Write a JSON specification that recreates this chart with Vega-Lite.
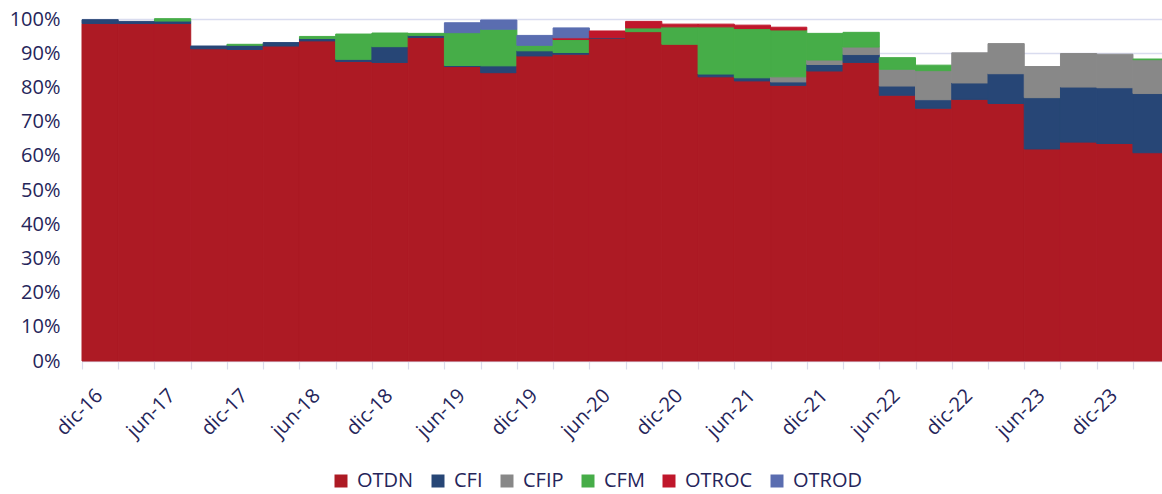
{
  "$schema": "https://vega.github.io/schema/vega-lite/v6.json",
  "width": 1080,
  "height": 342,
  "autosize": {"type": "none"},
  "padding": {"left": 82, "top": 19, "right": 0, "bottom": 133},
  "background": "white",
  "config": {"view": {"stroke": null}},
  "data": {"values": [
    {"q":"dic-16","s":"OTDN","v":98.7},{"q":"dic-16","s":"CFI","v":1.1},
    {"q":"mar-17","s":"OTDN","v":98.7},{"q":"mar-17","s":"CFI","v":0.6},
    {"q":"jun-17","s":"OTDN","v":98.7},{"q":"jun-17","s":"CFI","v":0.7},{"q":"jun-17","s":"CFM","v":0.7},
    {"q":"sep-17","s":"OTDN","v":91.3},{"q":"sep-17","s":"CFI","v":0.8},
    {"q":"dic-17","s":"OTDN","v":91.1},{"q":"dic-17","s":"CFI","v":1.2},{"q":"dic-17","s":"CFM","v":0.3},
    {"q":"mar-18","s":"OTDN","v":92.1},{"q":"mar-18","s":"CFI","v":1.0},
    {"q":"jun-18","s":"OTDN","v":93.6},{"q":"jun-18","s":"CFI","v":0.7},{"q":"jun-18","s":"CFM","v":0.6},
    {"q":"sep-18","s":"OTDN","v":87.6},{"q":"sep-18","s":"CFI","v":0.6},{"q":"sep-18","s":"CFM","v":7.4},
    {"q":"dic-18","s":"OTDN","v":87.3},{"q":"dic-18","s":"CFI","v":4.6},{"q":"dic-18","s":"CFM","v":4.0},
    {"q":"mar-19","s":"OTDN","v":94.6},{"q":"mar-19","s":"CFI","v":0.6},{"q":"mar-19","s":"CFM","v":0.6},
    {"q":"jun-19","s":"OTDN","v":86.1},{"q":"jun-19","s":"CFI","v":0.3},{"q":"jun-19","s":"CFM","v":9.6},{"q":"jun-19","s":"OTROD","v":2.9},
    {"q":"sep-19","s":"OTDN","v":84.3},{"q":"sep-19","s":"CFI","v":2.0},{"q":"sep-19","s":"CFM","v":10.7},{"q":"sep-19","s":"OTROD","v":2.7},
    {"q":"dic-19","s":"OTDN","v":89.2},{"q":"dic-19","s":"CFI","v":1.5},{"q":"dic-19","s":"CFM","v":1.6},{"q":"dic-19","s":"OTROD","v":2.9},
    {"q":"mar-20","s":"OTDN","v":89.7},{"q":"mar-20","s":"CFI","v":0.5},{"q":"mar-20","s":"CFM","v":3.8},{"q":"mar-20","s":"OTROC","v":0.5},{"q":"mar-20","s":"OTROD","v":2.9},
    {"q":"jun-20","s":"OTDN","v":94.3},{"q":"jun-20","s":"CFI","v":0.2},{"q":"jun-20","s":"OTROC","v":2.0},
    {"q":"sep-20","s":"OTDN","v":96.3},{"q":"sep-20","s":"CFM","v":1.1},{"q":"sep-20","s":"OTROC","v":1.9},
    {"q":"dic-20","s":"OTDN","v":92.6},{"q":"dic-20","s":"CFM","v":5.1},{"q":"dic-20","s":"OTROC","v":0.8},
    {"q":"mar-21","s":"OTDN","v":83.1},{"q":"mar-21","s":"CFI","v":0.8},{"q":"mar-21","s":"CFM","v":13.8},{"q":"mar-21","s":"OTROC","v":0.8},
    {"q":"jun-21","s":"OTDN","v":81.9},{"q":"jun-21","s":"CFI","v":0.9},{"q":"jun-21","s":"CFM","v":14.4},{"q":"jun-21","s":"OTROC","v":1.0},
    {"q":"sep-21","s":"OTDN","v":80.6},{"q":"sep-21","s":"CFI","v":1.0},{"q":"sep-21","s":"CFIP","v":1.5},{"q":"sep-21","s":"CFM","v":13.7},{"q":"sep-21","s":"OTROC","v":0.8},
    {"q":"dic-21","s":"OTDN","v":84.8},{"q":"dic-21","s":"CFI","v":1.9},{"q":"dic-21","s":"CFIP","v":1.3},{"q":"dic-21","s":"CFM","v":7.8},
    {"q":"mar-22","s":"OTDN","v":87.3},{"q":"mar-22","s":"CFI","v":2.3},{"q":"mar-22","s":"CFIP","v":2.2},{"q":"mar-22","s":"CFM","v":4.3},
    {"q":"jun-22","s":"OTDN","v":77.7},{"q":"jun-22","s":"CFI","v":2.7},{"q":"jun-22","s":"CFIP","v":4.9},{"q":"jun-22","s":"CFM","v":3.4},
    {"q":"sep-22","s":"OTDN","v":73.9},{"q":"sep-22","s":"CFI","v":2.5},{"q":"sep-22","s":"CFIP","v":8.5},{"q":"sep-22","s":"CFM","v":1.6},
    {"q":"dic-22","s":"OTDN","v":76.5},{"q":"dic-22","s":"CFI","v":4.8},{"q":"dic-22","s":"CFIP","v":8.8},
    {"q":"mar-23","s":"OTDN","v":75.3},{"q":"mar-23","s":"CFI","v":8.7},{"q":"mar-23","s":"CFIP","v":8.8},
    {"q":"jun-23","s":"OTDN","v":62.0},{"q":"jun-23","s":"CFI","v":15.0},{"q":"jun-23","s":"CFIP","v":9.1},
    {"q":"sep-23","s":"OTDN","v":64.0},{"q":"sep-23","s":"CFI","v":16.1},{"q":"sep-23","s":"CFIP","v":9.8},
    {"q":"dic-23","s":"OTDN","v":63.6},{"q":"dic-23","s":"CFI","v":16.3},{"q":"dic-23","s":"CFIP","v":9.8},
    {"q":"mar-24","s":"OTDN","v":60.9},{"q":"mar-24","s":"CFI","v":17.3},{"q":"mar-24","s":"CFIP","v":9.9},{"q":"mar-24","s":"CFM","v":0.2}
  ]},
  "transform": [
    {"calculate": "indexof(['OTDN','CFI','CFIP','CFM','OTROC','OTROD'], datum.s)", "as": "k"}
  ],
  "mark": {"type": "bar", "strokeWidth": 1},
  "encoding": {
    "x": {
      "field": "q", "type": "ordinal", "sort": null,
      "scale": {"range": [0, 1087.2], "paddingInner": 0, "paddingOuter": 0},
      "axis": {
        "title": null, "labelAngle": -45, "labelOverlap": false,
        "labelExpr": "(slice(datum.label,0,3)=='dic'||slice(datum.label,0,3)=='jun') ? datum.label : ''",
        "tickBand": "extent", "tickSize": 8, "tickColor": "#d9dcec", "tickWidth": 1.2,
        "domainColor": "#d9dcec", "domainWidth": 1.2,
        "labelFont": "Open Sans", "labelFontSize": 20, "labelColor": "#25255a",
        "labelPadding": 16, "labelOffset": -8,
        "grid": false
      }
    },
    "y": {
      "field": "v", "type": "quantitative", "aggregate": "sum", "stack": "zero",
      "scale": {"domain": [0, 100], "nice": false},
      "axis": {
        "title": null, "values": [0,10,20,30,40,50,60,70,80,90,100],
        "labelExpr": "datum.value + '%'", "ticks": false, "domain": false,
        "grid": true, "gridColor": "#d9dcef", "gridWidth": 1.5,
        "labelFont": "Open Sans", "labelFontSize": 20, "labelColor": "#25255a", "labelPadding": 22
      }
    },
    "order": {"field": "k", "type": "quantitative", "sort": "ascending"},
    "color": {
      "field": "s", "type": "nominal",
      "sort": ["OTDN","CFI","CFIP","CFM","OTROC","OTROD"],
      "scale": {"domain": ["OTDN","CFI","CFIP","CFM","OTROC","OTROD"], "range": ["#ad1a24","#274676","#888888","#46ad48","#c0172b","#5a6db0"]},
      "legend": {
        "title": null, "orient": "none", "direction": "horizontal", "legendX": 249, "legendY": 452,
        "symbolType": "square", "symbolSize": 169, "symbolStrokeWidth": 0, "labelOffset": 6, "columnPadding": 14,
        "labelFont": "Open Sans", "labelFontSize": 20, "labelColor": "#25255a", "padding": 0
      }
    },
    "stroke": {
      "field": "s", "type": "nominal",
      "scale": {"domain": ["OTDN","CFI","CFIP","CFM","OTROC","OTROD"], "range": ["#ad1a24","#274676","#888888","#46ad48","#c0172b","#5a6db0"]},
      "legend": null
    }
  }
}
